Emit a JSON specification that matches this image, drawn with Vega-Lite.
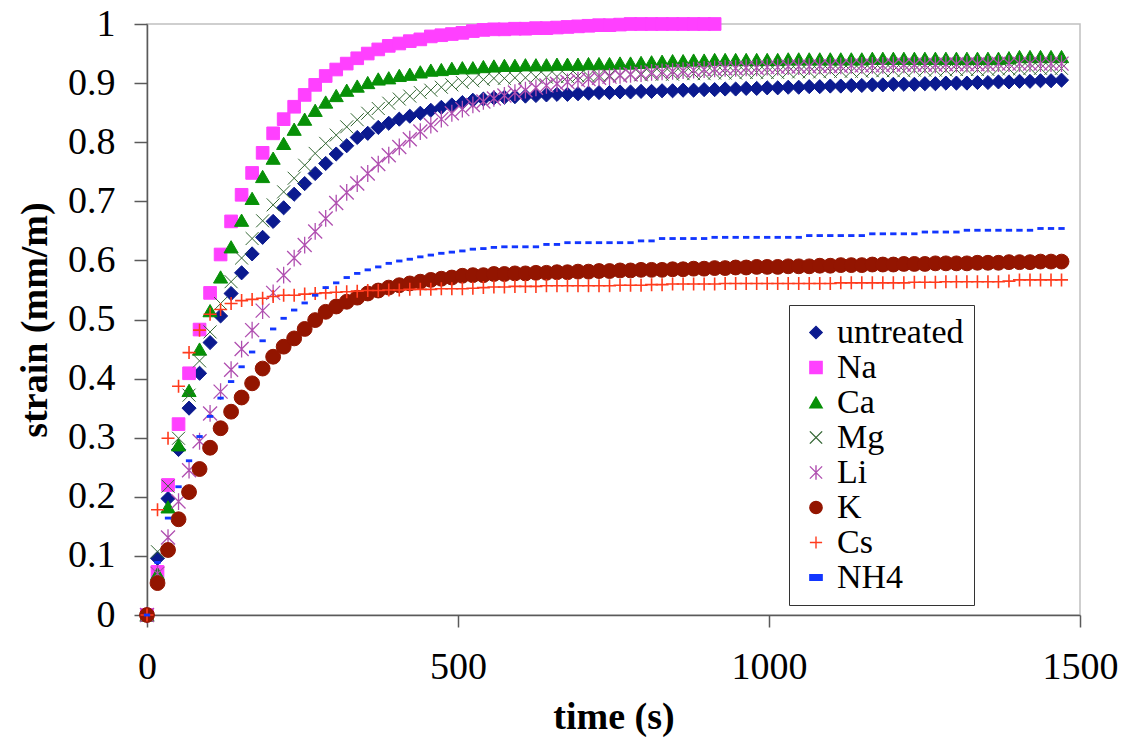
{
"$schema": "https://vega.github.io/schema/vega-lite/v6.json",
"width": 933, "height": 591,
"autosize": {"type": "none"},
"padding": {"left": 147, "top": 24, "right": 45, "bottom": 127},
"background": "white",
"config": {
 "view": {"stroke": "#c0c0c0", "strokeWidth": 1.5},
 "font": "Liberation Serif, Times New Roman, serif",
 "axis": {"labelFont": "Liberation Serif, Times New Roman, serif", "labelFontSize": 38, "labelColor": "black", "titleFont": "Liberation Serif, Times New Roman, serif", "titleFontSize": 38, "titleFontWeight": "bold", "titleColor": "black", "domainColor": "#5a5a5a", "domainWidth": 1.5, "tickColor": "#5a5a5a", "tickWidth": 1.5, "grid": false, "labelFlush": false, "labelOverlap": false, "labelBound": false},
 "legend": {"labelFont": "Liberation Serif, Times New Roman, serif"}
},
"data": {"values": [
{"t":0,"untreated":0,"Na":0,"Ca":0,"Mg":0,"Li":0,"K":0,"Cs":0,"NH4":0},
{"t":16.9,"untreated":0.096,"Na":0.073,"Ca":0.07,"Mg":0.107,"Li":0.07,"K":0.054,"Cs":0.178,"NH4":0.089},
{"t":33.8,"untreated":0.197,"Na":0.22,"Ca":0.183,"Mg":0.218,"Li":0.131,"K":0.11,"Cs":0.299,"NH4":0.164},
{"t":50.7,"untreated":0.28,"Na":0.323,"Ca":0.288,"Mg":0.299,"Li":0.192,"K":0.162,"Cs":0.387,"NH4":0.217},
{"t":67.6,"untreated":0.35,"Na":0.409,"Ca":0.38,"Mg":0.372,"Li":0.245,"K":0.208,"Cs":0.444,"NH4":0.261},
{"t":84.5,"untreated":0.409,"Na":0.483,"Ca":0.45,"Mg":0.43,"Li":0.294,"K":0.247,"Cs":0.482,"NH4":0.302},
{"t":101.4,"untreated":0.461,"Na":0.545,"Ca":0.515,"Mg":0.479,"Li":0.341,"K":0.283,"Cs":0.509,"NH4":0.336},
{"t":118.3,"untreated":0.506,"Na":0.61,"Ca":0.572,"Mg":0.527,"Li":0.378,"K":0.316,"Cs":0.517,"NH4":0.367},
{"t":135.2,"untreated":0.544,"Na":0.666,"Ca":0.623,"Mg":0.564,"Li":0.415,"K":0.344,"Cs":0.527,"NH4":0.395},
{"t":152.1,"untreated":0.579,"Na":0.711,"Ca":0.668,"Mg":0.604,"Li":0.45,"K":0.368,"Cs":0.532,"NH4":0.42},
{"t":169,"untreated":0.611,"Na":0.748,"Ca":0.705,"Mg":0.637,"Li":0.482,"K":0.392,"Cs":0.534,"NH4":0.445},
{"t":185.9,"untreated":0.639,"Na":0.782,"Ca":0.742,"Mg":0.667,"Li":0.515,"K":0.417,"Cs":0.536,"NH4":0.464},
{"t":202.8,"untreated":0.666,"Na":0.815,"Ca":0.773,"Mg":0.694,"Li":0.545,"K":0.437,"Cs":0.539,"NH4":0.484},
{"t":219.7,"untreated":0.689,"Na":0.839,"Ca":0.798,"Mg":0.716,"Li":0.575,"K":0.454,"Cs":0.541,"NH4":0.502},
{"t":236.6,"untreated":0.712,"Na":0.86,"Ca":0.822,"Mg":0.739,"Li":0.604,"K":0.468,"Cs":0.541,"NH4":0.516},
{"t":253.5,"untreated":0.73,"Na":0.88,"Ca":0.839,"Mg":0.761,"Li":0.626,"K":0.484,"Cs":0.543,"NH4":0.528},
{"t":270.4,"untreated":0.747,"Na":0.897,"Ca":0.854,"Mg":0.781,"Li":0.649,"K":0.499,"Cs":0.544,"NH4":0.541},
{"t":287.3,"untreated":0.764,"Na":0.912,"Ca":0.868,"Mg":0.798,"Li":0.671,"K":0.513,"Cs":0.545,"NH4":0.554},
{"t":304.2,"untreated":0.78,"Na":0.923,"Ca":0.879,"Mg":0.812,"Li":0.697,"K":0.522,"Cs":0.546,"NH4":0.562},
{"t":321.1,"untreated":0.794,"Na":0.933,"Ca":0.888,"Mg":0.826,"Li":0.715,"K":0.53,"Cs":0.547,"NH4":0.571},
{"t":338,"untreated":0.808,"Na":0.942,"Ca":0.895,"Mg":0.838,"Li":0.73,"K":0.537,"Cs":0.548,"NH4":0.578},
{"t":354.9,"untreated":0.815,"Na":0.95,"Ca":0.901,"Mg":0.849,"Li":0.747,"K":0.544,"Cs":0.549,"NH4":0.584},
{"t":371.8,"untreated":0.825,"Na":0.957,"Ca":0.907,"Mg":0.857,"Li":0.763,"K":0.549,"Cs":0.549,"NH4":0.589},
{"t":388.7,"untreated":0.832,"Na":0.963,"Ca":0.909,"Mg":0.866,"Li":0.778,"K":0.554,"Cs":0.55,"NH4":0.595},
{"t":405.6,"untreated":0.839,"Na":0.967,"Ca":0.913,"Mg":0.873,"Li":0.792,"K":0.558,"Cs":0.55,"NH4":0.599},
{"t":422.5,"untreated":0.844,"Na":0.971,"Ca":0.915,"Mg":0.878,"Li":0.805,"K":0.561,"Cs":0.551,"NH4":0.602},
{"t":439.4,"untreated":0.849,"Na":0.974,"Ca":0.919,"Mg":0.884,"Li":0.818,"K":0.564,"Cs":0.551,"NH4":0.606},
{"t":456.3,"untreated":0.854,"Na":0.979,"Ca":0.922,"Mg":0.888,"Li":0.829,"K":0.567,"Cs":0.551,"NH4":0.609},
{"t":473.2,"untreated":0.859,"Na":0.981,"Ca":0.923,"Mg":0.893,"Li":0.839,"K":0.569,"Cs":0.552,"NH4":0.612},
{"t":490.1,"untreated":0.863,"Na":0.983,"Ca":0.925,"Mg":0.897,"Li":0.849,"K":0.571,"Cs":0.552,"NH4":0.614},
{"t":507,"untreated":0.867,"Na":0.985,"Ca":0.926,"Mg":0.901,"Li":0.856,"K":0.574,"Cs":0.552,"NH4":0.616},
{"t":523.9,"untreated":0.871,"Na":0.988,"Ca":0.926,"Mg":0.904,"Li":0.863,"K":0.575,"Cs":0.553,"NH4":0.619},
{"t":540.8,"untreated":0.873,"Na":0.99,"Ca":0.928,"Mg":0.906,"Li":0.869,"K":0.575,"Cs":0.554,"NH4":0.62},
{"t":557.7,"untreated":0.875,"Na":0.991,"Ca":0.929,"Mg":0.908,"Li":0.874,"K":0.577,"Cs":0.555,"NH4":0.622},
{"t":574.6,"untreated":0.876,"Na":0.991,"Ca":0.93,"Mg":0.908,"Li":0.879,"K":0.577,"Cs":0.555,"NH4":0.623},
{"t":591.5,"untreated":0.877,"Na":0.992,"Ca":0.93,"Mg":0.909,"Li":0.884,"K":0.578,"Cs":0.556,"NH4":0.623},
{"t":608.4,"untreated":0.878,"Na":0.992,"Ca":0.931,"Mg":0.909,"Li":0.888,"K":0.578,"Cs":0.556,"NH4":0.623},
{"t":625.3,"untreated":0.879,"Na":0.993,"Ca":0.931,"Mg":0.91,"Li":0.892,"K":0.579,"Cs":0.556,"NH4":0.623},
{"t":642.2,"untreated":0.88,"Na":0.993,"Ca":0.931,"Mg":0.91,"Li":0.896,"K":0.579,"Cs":0.557,"NH4":0.627},
{"t":659.1,"untreated":0.881,"Na":0.994,"Ca":0.932,"Mg":0.911,"Li":0.899,"K":0.58,"Cs":0.557,"NH4":0.627},
{"t":676,"untreated":0.881,"Na":0.995,"Ca":0.932,"Mg":0.911,"Li":0.902,"K":0.58,"Cs":0.557,"NH4":0.63},
{"t":692.9,"untreated":0.882,"Na":0.996,"Ca":0.932,"Mg":0.912,"Li":0.905,"K":0.581,"Cs":0.557,"NH4":0.63},
{"t":709.8,"untreated":0.883,"Na":0.997,"Ca":0.933,"Mg":0.912,"Li":0.907,"K":0.581,"Cs":0.557,"NH4":0.63},
{"t":726.7,"untreated":0.884,"Na":0.998,"Ca":0.933,"Mg":0.913,"Li":0.909,"K":0.582,"Cs":0.557,"NH4":0.63},
{"t":743.6,"untreated":0.884,"Na":0.998,"Ca":0.933,"Mg":0.913,"Li":0.911,"K":0.582,"Cs":0.557,"NH4":0.63},
{"t":760.5,"untreated":0.885,"Na":0.999,"Ca":0.934,"Mg":0.914,"Li":0.913,"K":0.583,"Cs":0.558,"NH4":0.63},
{"t":777.4,"untreated":0.885,"Na":1,"Ca":0.934,"Mg":0.914,"Li":0.915,"K":0.583,"Cs":0.558,"NH4":0.63},
{"t":794.3,"untreated":0.886,"Na":1,"Ca":0.935,"Mg":0.914,"Li":0.916,"K":0.584,"Cs":0.558,"NH4":0.633},
{"t":811.2,"untreated":0.886,"Na":1,"Ca":0.936,"Mg":0.915,"Li":0.918,"K":0.584,"Cs":0.559,"NH4":0.633},
{"t":828.1,"untreated":0.887,"Na":1,"Ca":0.937,"Mg":0.915,"Li":0.919,"K":0.584,"Cs":0.559,"NH4":0.637},
{"t":845,"untreated":0.887,"Na":1,"Ca":0.938,"Mg":0.915,"Li":0.92,"K":0.585,"Cs":0.56,"NH4":0.637},
{"t":861.9,"untreated":0.888,"Na":1,"Ca":0.938,"Mg":0.916,"Li":0.921,"K":0.585,"Cs":0.56,"NH4":0.637},
{"t":878.8,"untreated":0.888,"Na":1,"Ca":0.939,"Mg":0.916,"Li":0.922,"K":0.586,"Cs":0.56,"NH4":0.637},
{"t":895.7,"untreated":0.889,"Na":1,"Ca":0.939,"Mg":0.916,"Li":0.923,"K":0.586,"Cs":0.56,"NH4":0.637},
{"t":912.6,"untreated":0.889,"Na":1,"Ca":0.94,"Mg":0.917,"Li":0.924,"K":0.587,"Cs":0.56,"NH4":0.639},
{"t":929.5,"untreated":0.89,"Ca":0.94,"Mg":0.917,"Li":0.925,"K":0.587,"Cs":0.561,"NH4":0.639},
{"t":946.4,"untreated":0.89,"Ca":0.94,"Mg":0.917,"Li":0.925,"K":0.588,"Cs":0.561,"NH4":0.639},
{"t":963.3,"untreated":0.891,"Ca":0.94,"Mg":0.918,"Li":0.926,"K":0.588,"Cs":0.561,"NH4":0.639},
{"t":980.2,"untreated":0.891,"Ca":0.94,"Mg":0.918,"Li":0.926,"K":0.589,"Cs":0.561,"NH4":0.639},
{"t":997.1,"untreated":0.892,"Ca":0.94,"Mg":0.918,"Li":0.927,"K":0.589,"Cs":0.561,"NH4":0.639},
{"t":1014,"untreated":0.892,"Ca":0.94,"Mg":0.918,"Li":0.927,"K":0.589,"Cs":0.561,"NH4":0.639},
{"t":1030.9,"untreated":0.893,"Ca":0.941,"Mg":0.919,"Li":0.928,"K":0.59,"Cs":0.561,"NH4":0.639},
{"t":1047.8,"untreated":0.893,"Ca":0.941,"Mg":0.919,"Li":0.928,"K":0.59,"Cs":0.561,"NH4":0.639},
{"t":1064.7,"untreated":0.894,"Ca":0.941,"Mg":0.919,"Li":0.928,"K":0.59,"Cs":0.561,"NH4":0.642},
{"t":1081.6,"untreated":0.894,"Ca":0.941,"Mg":0.919,"Li":0.929,"K":0.591,"Cs":0.561,"NH4":0.642},
{"t":1098.5,"untreated":0.895,"Ca":0.941,"Mg":0.92,"Li":0.929,"K":0.591,"Cs":0.561,"NH4":0.642},
{"t":1115.4,"untreated":0.895,"Ca":0.941,"Mg":0.92,"Li":0.929,"K":0.592,"Cs":0.562,"NH4":0.642},
{"t":1132.3,"untreated":0.896,"Ca":0.941,"Mg":0.92,"Li":0.93,"K":0.592,"Cs":0.562,"NH4":0.642},
{"t":1149.2,"untreated":0.896,"Ca":0.941,"Mg":0.92,"Li":0.93,"K":0.592,"Cs":0.562,"NH4":0.642},
{"t":1166.1,"untreated":0.897,"Ca":0.942,"Mg":0.921,"Li":0.93,"K":0.593,"Cs":0.562,"NH4":0.645},
{"t":1183,"untreated":0.897,"Ca":0.942,"Mg":0.921,"Li":0.93,"K":0.593,"Cs":0.562,"NH4":0.645},
{"t":1199.9,"untreated":0.898,"Ca":0.942,"Mg":0.921,"Li":0.931,"K":0.593,"Cs":0.562,"NH4":0.645},
{"t":1216.8,"untreated":0.898,"Ca":0.942,"Mg":0.921,"Li":0.931,"K":0.594,"Cs":0.562,"NH4":0.645},
{"t":1233.7,"untreated":0.898,"Ca":0.942,"Mg":0.922,"Li":0.931,"K":0.594,"Cs":0.563,"NH4":0.645},
{"t":1250.6,"untreated":0.899,"Ca":0.942,"Mg":0.922,"Li":0.931,"K":0.594,"Cs":0.563,"NH4":0.648},
{"t":1267.5,"untreated":0.899,"Ca":0.942,"Mg":0.922,"Li":0.931,"K":0.595,"Cs":0.563,"NH4":0.648},
{"t":1284.4,"untreated":0.9,"Ca":0.942,"Mg":0.922,"Li":0.932,"K":0.595,"Cs":0.564,"NH4":0.648},
{"t":1301.3,"untreated":0.9,"Ca":0.942,"Mg":0.923,"Li":0.932,"K":0.595,"Cs":0.564,"NH4":0.648},
{"t":1318.2,"untreated":0.9,"Ca":0.942,"Mg":0.923,"Li":0.932,"K":0.595,"Cs":0.564,"NH4":0.651},
{"t":1335.1,"untreated":0.901,"Ca":0.942,"Mg":0.923,"Li":0.932,"K":0.596,"Cs":0.564,"NH4":0.651},
{"t":1352,"untreated":0.901,"Ca":0.942,"Mg":0.923,"Li":0.932,"K":0.596,"Cs":0.564,"NH4":0.651},
{"t":1368.9,"untreated":0.902,"Ca":0.942,"Mg":0.924,"Li":0.933,"K":0.596,"Cs":0.564,"NH4":0.651},
{"t":1385.8,"untreated":0.902,"Ca":0.943,"Mg":0.924,"Li":0.933,"K":0.597,"Cs":0.565,"NH4":0.651},
{"t":1402.7,"untreated":0.903,"Ca":0.945,"Mg":0.924,"Li":0.933,"K":0.597,"Cs":0.567,"NH4":0.651},
{"t":1419.6,"untreated":0.903,"Ca":0.945,"Mg":0.925,"Li":0.933,"K":0.597,"Cs":0.567,"NH4":0.651},
{"t":1436.5,"untreated":0.904,"Ca":0.945,"Mg":0.925,"Li":0.933,"K":0.598,"Cs":0.567,"NH4":0.654},
{"t":1453.4,"untreated":0.904,"Ca":0.945,"Mg":0.925,"Li":0.933,"K":0.598,"Cs":0.567,"NH4":0.654},
{"t":1470.3,"untreated":0.905,"Ca":0.945,"Mg":0.925,"Li":0.933,"K":0.598,"Cs":0.567,"NH4":0.654}
]},
"encoding": {
 "x": {"field": "t", "type": "quantitative", "scale": {"domain": [0, 1500], "nice": false},
  "axis": {"values": [0, 500, 1000, 1500], "format": "d", "title": "time (s)", "tickSize": 12, "labelPadding": 21, "titlePadding": 12}},
 "y": {"field": "strain", "type": "quantitative", "scale": {"domain": [0, 1], "nice": false},
  "axis": {"values": [0, 0.1, 0.2, 0.3, 0.4, 0.5, 0.6, 0.7, 0.8, 0.9, 1], "format": "~g", "title": "strain (mm/m)", "tickSize": 13, "labelPadding": 19, "titleX": -101, "titleBaseline": "alphabetic"}},
 "shape": {"field": "series", "type": "nominal",
  "scale": {"domain": ["untreated", "Na", "Ca", "Mg", "Li", "K", "Cs", "NH4"],
   "range": ["diamond", "square", "triangle-up", "M-1,-1L1,1M-1,1L1,-1", "M-1,-1L1,1M-1,1L1,-1M0,-1.2L0,1.2", "circle", "M-1,0L1,0M0,-1L0,1", "M-1,-0.45L1,-0.45L1,0.45L-1,0.45Z"]},
  "legend": {"title": null, "orient": "none", "legendX": 642, "legendY": 281, "padding": 10, "strokeColor": "#333333", "fillColor": "white", "labelFont": "Liberation Serif, Times New Roman, serif", "labelFontSize": 34, "labelColor": "black", "symbolSize": 150, "symbolStrokeWidth": 1.4, "symbolOffset": 0, "labelOffset": 4, "clipHeight": 35, "rowPadding": -3, "labelLimit": 300}},
 "fill": {"field": "series", "type": "nominal",
  "scale": {"domain": ["untreated", "Na", "Ca", "Mg", "Li", "K", "Cs", "NH4"],
   "range": ["#0b1a8f", "#ff40ff", "#079007", "transparent", "transparent", "#931500", "transparent", "#1236ff"]}},
 "stroke": {"field": "series", "type": "nominal",
  "scale": {"domain": ["untreated", "Na", "Ca", "Mg", "Li", "K", "Cs", "NH4"],
   "range": ["#0b1a8f", "#ff40ff", "#079007", "#336633", "#b04fb0", "#931500", "#ff3b1d", "#1236ff"]}}
},
"layer": [
 {"transform": [{"fold": ["untreated"], "as": ["series", "strain"]}, {"filter": "isValid(datum.strain)"}], "mark": {"type": "point", "size": 200, "strokeWidth": 1, "opacity": 1}},
 {"transform": [{"fold": ["Na"], "as": ["series", "strain"]}, {"filter": "isValid(datum.strain)"}], "mark": {"type": "point", "size": 160, "strokeWidth": 1, "opacity": 1}},
 {"transform": [{"fold": ["Ca"], "as": ["series", "strain"]}, {"filter": "isValid(datum.strain)"}], "mark": {"type": "point", "size": 200, "strokeWidth": 1, "opacity": 1}},
 {"transform": [{"fold": ["Mg"], "as": ["series", "strain"]}, {"filter": "isValid(datum.strain)"}], "mark": {"type": "point", "size": 169, "strokeWidth": 1, "opacity": 1}},
 {"transform": [{"fold": ["Li"], "as": ["series", "strain"]}, {"filter": "isValid(datum.strain)"}], "mark": {"type": "point", "size": 196, "strokeWidth": 1.3, "opacity": 1}},
 {"transform": [{"fold": ["K"], "as": ["series", "strain"]}, {"filter": "isValid(datum.strain)"}], "mark": {"type": "point", "size": 220, "strokeWidth": 1, "opacity": 1}},
 {"transform": [{"fold": ["Cs"], "as": ["series", "strain"]}, {"filter": "isValid(datum.strain)"}], "mark": {"type": "point", "size": 169, "strokeWidth": 1.6, "opacity": 1}},
 {"transform": [{"fold": ["NH4"], "as": ["series", "strain"]}, {"filter": "isValid(datum.strain)"}], "mark": {"type": "point", "size": 40, "strokeWidth": 0, "opacity": 1}}
]
}
